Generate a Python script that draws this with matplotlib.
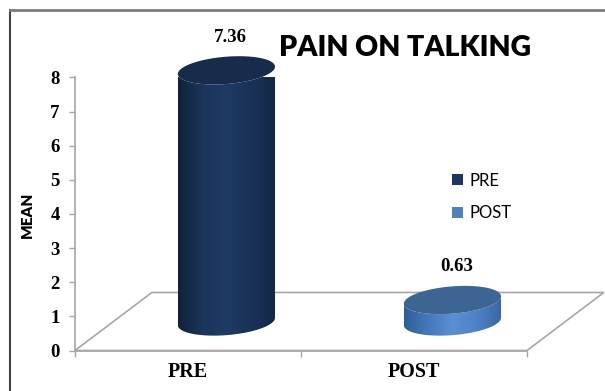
import numpy as np
import matplotlib
matplotlib.use('Agg')
import matplotlib.pyplot as plt
from matplotlib.patches import Polygon, Patch
from matplotlib.colors import LinearSegmentedColormap
from matplotlib.lines import Line2D

categories = ['PRE', 'POST']
means = [7.36, 0.63]
value_labels = ['7.36', '0.63']
yticks = [0, 1, 2, 3, 4, 5, 6, 7, 8]
title = 'PAIN ON TALKING'
ylabel = 'MEAN'

body_colors = [['#10213b', '#1b355b', '#1e3b64', '#193256', '#132846'],
               ['#2f5d98', '#4679bb', '#5a8fd6', '#4f82c4', '#3866a3']]
top_colors = ['#172c4b', '#3d6594']
legend_colors = ['#1c3661', '#4f81bd']
grid_gray = '#a6a6a6'

# 3d look, in data units
depth_x, depth_y = 0.34, 1.70
half_w, half_h, shear = 0.215, 0.40, 0.5

W, H = 605., 391.
fig = plt.figure(figsize=(W/100, H/100), dpi=100)
ax = fig.add_axes([75/W, (H-350.5)/H, 452/W, (350.5-77.5)/H])
ax.set_facecolor('none')

for s in ['top', 'right']:
    ax.spines[s].set_visible(False)
for s in ['left', 'bottom']:
    ax.spines[s].set_color(grid_gray)
    ax.spines[s].set_linewidth(1.2)

# floor of the 3d plot
floor = Polygon([(0, 0), (depth_x, depth_y), (2 + depth_x, depth_y), (2, 0)],
                closed=True, fill=False, edgecolor=grid_gray, lw=1.2,
                clip_on=False, zorder=1)
ax.add_patch(floor)


def ellipse(cx, cy, tt):
    return np.column_stack([cx + half_w*np.cos(tt),
                            cy + half_h*np.sin(tt) + shear*half_w*np.cos(tt)])


t_full = np.linspace(0, 2*np.pi, 200)
t_low = np.linspace(np.pi, 2*np.pi, 100)
grad = np.linspace(0, 1, 256).reshape(1, -1)

for i, (v, lab) in enumerate(zip(means, value_labels)):
    cx = i + 0.5 + depth_x/2
    base = depth_y/2
    top = base + v
    body = np.vstack([ellipse(cx, base, t_low), ellipse(cx, top, t_low[::-1])])
    clip = Polygon(body, closed=True, transform=ax.transData,
                   facecolor='none', edgecolor='none')
    cmap = LinearSegmentedColormap.from_list('b%d' % i, body_colors[i])
    im = ax.imshow(grad, cmap=cmap, aspect='auto', interpolation='bilinear',
                   extent=[cx - half_w, cx + half_w, base - half_h - 0.3, top + half_h + 0.3],
                   zorder=3)
    im.set_clip_path(clip)
    cap = Polygon(ellipse(cx, top, t_full), closed=True, facecolor=top_colors[i],
                  edgecolor='none', clip_on=False, zorder=4)
    ax.add_patch(cap)
    ax.annotate(lab, (cx, top + half_h), xytext=(3, 14), textcoords='offset points',
                ha='center', va='center', fontsize=13.5, fontweight='bold',
                family='Liberation Serif', annotation_clip=False)

ax.set_xlim(0, 2)
ax.set_ylim(0, 8)

ax.set_yticks(yticks)
ax.set_yticklabels([str(v) for v in yticks])
ax.tick_params(axis='y', length=4, width=1, color=grid_gray, pad=7, labelsize=13.5)
for lbl in ax.get_yticklabels():
    lbl.set_fontfamily('Liberation Serif')
    lbl.set_fontweight('bold')

ax.set_xticks([0, 1, 2])
ax.set_xticklabels([])
ax.set_xticks([0.5, 1.5], minor=True)
ax.set_xticklabels(categories, minor=True)
ax.tick_params(axis='x', which='major', length=4, width=1, color=grid_gray)
ax.tick_params(axis='x', which='minor', length=0, pad=8, labelsize=14.5)
for lbl in ax.get_xticklabels(minor=True):
    lbl.set_fontfamily('Liberation Serif')
    lbl.set_fontweight('bold')

fig.text(27/W, 1 - 215/H, ylabel, rotation=90, ha='center', va='center',
         fontsize=11, fontweight='heavy', family='Lato')
fig.text(405/W, 1 - 48/H, title, ha='center', va='center',
         fontsize=20.5, fontweight='heavy', family='Lato')

# outer frame (left and top visible)
fig.add_artist(Line2D([10/W, 10/W], [0, 1 - 10/H], transform=fig.transFigure,
                      color='#444444', lw=1.5))
fig.add_artist(Line2D([10/W, 1], [1 - 10/H, 1 - 10/H], transform=fig.transFigure,
                      color='#7a7a7a', lw=2))

handles = [Patch(facecolor=c) for c in legend_colors]
fig.legend(handles, categories, loc='center left', bbox_to_anchor=(452/W, 1 - 197/H),
           frameon=False, prop={'family': 'Lato', 'size': 12},
           handlelength=0.65, handleheight=0.65, handletextpad=0.4,
           labelspacing=1.0, borderpad=0, borderaxespad=0)

fig.savefig('out.png', dpi=100)
